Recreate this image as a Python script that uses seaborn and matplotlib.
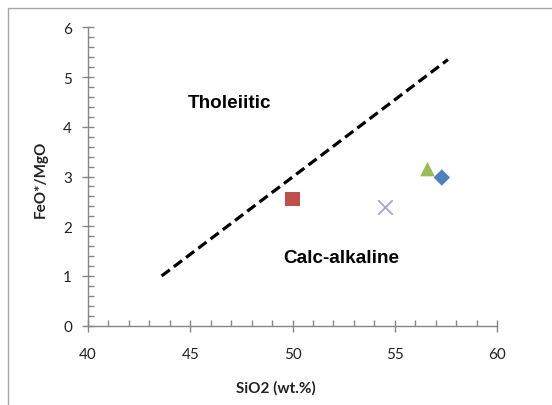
import matplotlib
matplotlib.use("Agg")
import matplotlib.pyplot as plt
import seaborn as sns
from matplotlib.ticker import MultipleLocator
from matplotlib.patches import Rectangle

# ---- data ----
sio2 = [57.3, 50.0, 56.6, 54.5]
feo_mgo = [2.98, 2.55, 3.15, 2.38]
markers = ["D", "s", "^", "x"]
colors = ["#4F81BD", "#C0504D", "#9BBB59", "#B3A2C7"]
sizes = [70, 110, 110, 110]

# Tholeiitic / calc-alkaline boundary
boundary_sio2 = [43.6, 57.6]
boundary_ratio = [1.0, 5.35]

sns.set_style("white")
plt.rcParams["font.family"] = ["Lato", "DejaVu Sans"]

fig = plt.figure(figsize=(5.52, 4.06), dpi=100)
ax = fig.add_axes([0.1594, 0.1953, 0.741, 0.7350])

# outer chart border (Excel style)
fig.patches.append(Rectangle((8 / 552, -0.2), 1.2, 1.2 - 9 / 406,
                             transform=fig.transFigure, fill=False,
                             edgecolor="#A6A6A6", linewidth=1.0))

sns.lineplot(x=boundary_sio2, y=boundary_ratio, color="black", linewidth=2.3,
             ax=ax)
ax.lines[-1].set_dashes((3.2, 1.6))

for x, y, m, c, s in zip(sio2, feo_mgo, markers, colors, sizes):
    if m == "x":
        sns.scatterplot(x=[x], y=[y], marker=m, color=c, s=s, linewidth=1.3,
                        ax=ax, zorder=3)
    else:
        sns.scatterplot(x=[x], y=[y], marker=m, color=c, s=s, edgecolor="none",
                        ax=ax, zorder=3)

ax.text(46.9, 4.48, "Tholeiitic", fontsize=13.6, fontweight="bold",
        family="Liberation Sans", color="black", ha="center", va="center")
ax.text(52.4, 1.38, "Calc-alkaline", fontsize=13.6, fontweight="bold",
        family="Liberation Sans", color="black", ha="center", va="center")

ax.set_xlim(40, 60)
ax.set_ylim(0, 6)
ax.xaxis.set_major_locator(MultipleLocator(5))
ax.xaxis.set_minor_locator(MultipleLocator(1))
ax.yaxis.set_major_locator(MultipleLocator(1))
ax.yaxis.set_minor_locator(MultipleLocator(0.2))

for side in ["top", "right"]:
    ax.spines[side].set_visible(False)
for side in ["left", "bottom"]:
    ax.spines[side].set_color("#868686")
    ax.spines[side].set_linewidth(1.0)

ax.tick_params(which="major", direction="inout", length=9, width=1.0,
               color="#868686", labelsize=11, labelcolor="#222222")
ax.tick_params(axis="x", which="major", pad=11)
ax.tick_params(axis="y", which="major", pad=7)
ax.tick_params(which="minor", direction="in", length=4, width=1.0,
               color="#868686")
ax.tick_params(bottom=True, left=True, which="both")

ax.set_xlabel("SiO2 (wt.%)", fontsize=11, fontweight="bold", color="#222222")
ax.set_ylabel("FeO*/MgO", fontsize=11, fontweight="bold", color="#222222")
ax.xaxis.set_label_coords(0.46, -0.205)
ax.yaxis.set_label_coords(-0.115, 0.495)
ax.xaxis.label.set_va("center")
ax.yaxis.label.set_va("center")
ax.grid(False)

fig.savefig("out.png", dpi=100)
